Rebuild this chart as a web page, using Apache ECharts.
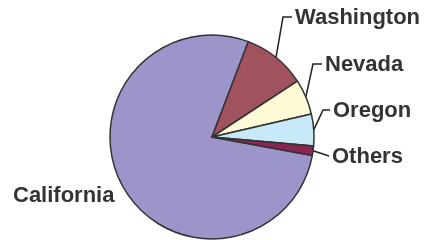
<!DOCTYPE html>
<html>
<head>
<meta charset="utf-8">
<script src="https://cdn.jsdelivr.net/npm/echarts@6/dist/echarts.min.js"></script>
<style>
  html, body { margin: 0; padding: 0; background: #fff; }
  #chart { width: 426px; height: 240px; }
</style>
</head>
<body>
<div id="chart"></div>
<script>
// share of total
var states = ['California', 'Washington', 'Nevada', 'Oregon', 'Others'];
var shares = [77.9, 10.0, 5.6, 5.0, 1.5];
var colors = ['#9B95C9', '#A1525F', '#FFFAD6', '#C8E9F7', '#8A2453'];

// where each label sits (left edge, vertical middle) and how long its horizontal tail is
var spots = {
  California: { x: 13, y: 196, tail: 0 },
  Washington: { x: 295, y: 18, tail: 9 },
  Nevada: { x: 325, y: 65, tail: 9 },
  Oregon: { x: 333, y: 111, tail: 7 },
  Others: { x: 332, y: 157, tail: 0 }
};

var chart = echarts.init(document.getElementById('chart'), null, { renderer: 'canvas' });

var data = states.map(function (s, i) {
  return {
    name: s,
    value: shares[i],
    itemStyle: { color: colors[i] },
    labelLine: { show: s !== 'California' }
  };
});

var option = {
  animation: false,
  series: [{
    type: 'pie',
    center: [212, 137],
    radius: 102,
    startAngle: -10.4,
    clockwise: true,
    avoidLabelOverlap: false,
    data: data,
    itemStyle: {
      borderColor: '#333',
      borderWidth: 1.5
    },
    label: {
      show: true,
      position: 'outside',
      formatter: '{b}',
      color: '#333',
      fontFamily: 'Liberation Sans, Arial, sans-serif',
      fontWeight: 'bold',
      fontSize: 22
    },
    labelLine: {
      show: true,
      lineStyle: { color: '#222', width: 1.5 }
    },
    labelLayout: function (params) {
      var name = states[params.dataIndex];
      var s = spots[name];
      var out = { x: s.x, y: s.y, align: 'left', verticalAlign: 'middle' };
      if (params.labelLinePoints && name !== 'California') {
        var start = params.labelLinePoints[0];
        var end = [s.x - 3, s.y - 1];
        if (s.tail > 0) {
          out.labelLinePoints = [start, [end[0] - s.tail, end[1]], end];
        } else {
          out.labelLinePoints = [start, end];
        }
      }
      return out;
    }
  }]
};

chart.setOption(option);
</script>
</body>
</html>
